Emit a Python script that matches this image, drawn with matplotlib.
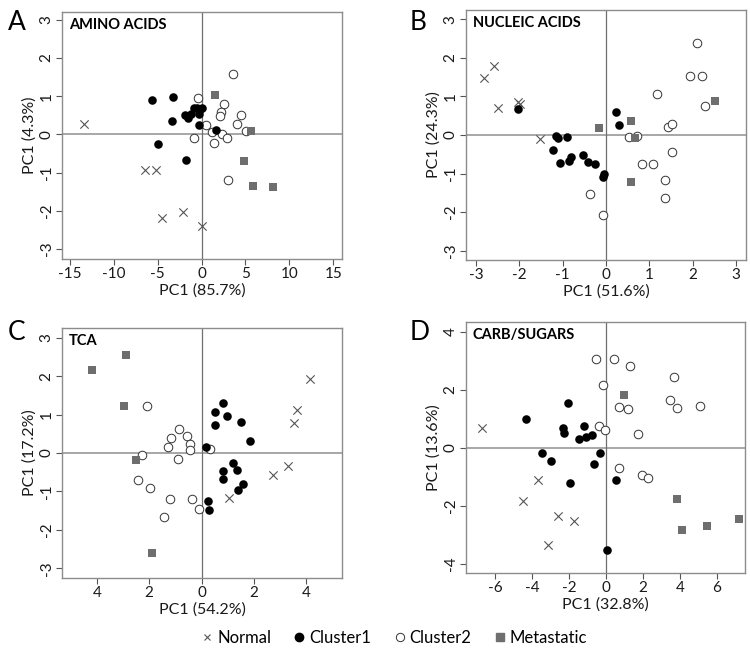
import matplotlib
matplotlib.use('Agg')
import matplotlib.pyplot as plt
from matplotlib.lines import Line2D

plt.rcParams['font.family'] = ['Lato', 'DejaVu Sans']
plt.rcParams['axes.unicode_minus'] = False

# panel A - amino acids
a_normal = [(-13.4, 0.27), (-6.5, -0.93), (-5.2, -0.93), (-4.5, -2.2), (-2.1, -2.03), (0.1, -2.4)]
a_cluster1 = [(-5.6, 0.89), (-3.3, 0.99), (-3.4, 0.34), (-5.0, -0.25), (-1.8, -0.68),
              (-1.9, 0.50), (-1.6, 0.42), (-1.25, 0.53), (-0.87, 0.68), (-0.57, 0.70),
              (-0.19, 0.66), (0.08, 0.68), (-0.3, 0.53), (-0.3, 0.24), (1.6, 0.12)]
a_cluster2 = [(3.6, 1.59), (-0.4, 0.96), (2.6, 0.79), (2.2, 0.59), (2.05, 0.48), (4.5, 0.50),
              (4.0, 0.28), (0.53, 0.24), (5.1, 0.10), (1.2, 0.05), (2.35, 0.0), (2.85, -0.09),
              (-0.84, -0.10), (1.45, -0.23), (2.97, -1.19)]
a_meta = [(1.52, 1.02), (5.63, 0.09), (4.83, -0.69), (5.86, -1.36), (8.1, -1.38)]

# panel B - nucleic acids
b_normal = [(-2.81, 1.48), (-2.58, 1.79), (-2.49, 0.69), (-2.02, 0.85), (-1.98, 0.80), (-1.52, -0.10)]
b_cluster1 = [(-2.02, 0.68), (-1.15, -0.03), (-1.11, -0.09), (-0.91, -0.04), (-1.22, -0.39),
              (-1.05, -0.72), (-0.86, -0.67), (-0.80, -0.56), (-0.54, -0.52), (-0.42, -0.69),
              (-0.26, -0.76), (-0.05, -1.01), (-0.07, -1.08), (0.22, 0.60), (0.29, 0.27)]
b_cluster2 = [(2.1, 2.38), (1.93, 1.54), (2.21, 1.54), (1.18, 1.05), (2.29, 0.75), (1.42, 0.21),
              (1.52, 0.28), (0.52, -0.04), (0.72, -0.02), (1.52, -0.45), (0.83, -0.75),
              (1.08, -0.76), (1.37, -1.17), (1.35, -1.63), (-0.36, -1.54), (-0.08, -2.08)]
b_meta = [(-0.16, 0.19), (0.58, 0.36), (0.68, -0.07), (2.52, 0.88), (0.58, -1.23)]

# panel C - TCA
c_normal = [(4.15, 1.93), (3.65, 1.12), (3.51, 0.79), (3.28, -0.34), (2.74, -0.56), (1.05, -1.16)]
c_cluster1 = [(0.80, 1.29), (0.51, 1.06), (0.97, 0.95), (0.51, 0.74), (1.52, 0.81), (1.84, 0.31),
              (0.18, 0.15), (1.19, -0.27), (0.83, -0.46), (1.35, -0.45), (0.80, -0.68),
              (1.58, -0.80), (1.40, -0.95), (0.24, -1.26), (0.28, -1.49)]
c_cluster2 = [(-2.07, 1.23), (-0.85, 0.62), (-1.17, 0.39), (-0.56, 0.44), (-1.30, 0.16),
              (-0.43, 0.24), (-0.43, 0.07), (0.32, 0.10), (-2.26, -0.04), (-0.91, -0.16),
              (-2.44, -0.71), (-1.98, -0.92), (-1.2, -1.19), (-0.37, -1.19), (-0.11, -1.46),
              (-1.45, -1.66)]
c_meta = [(-4.18, 2.16), (-2.9, 2.54), (-2.97, 1.21), (-2.49, -0.17), (-1.91, -2.61)]

# panel D - carb/sugars
d_normal = [(-6.73, 0.69), (-3.70, -1.11), (-4.48, -1.84), (-2.62, -2.35), (-1.73, -2.52), (-3.12, -3.34)]
d_cluster1 = [(-4.33, 0.98), (-2.08, 1.53), (-2.35, 0.69), (-2.26, 0.52), (-1.19, 0.75),
              (-1.46, 0.30), (-1.08, 0.38), (-0.78, 0.44), (-3.47, -0.18), (-2.98, -0.45),
              (-0.32, -0.20), (-0.65, -0.56), (-1.97, -1.22), (0.52, -1.12), (0.05, -3.53)]
d_cluster2 = [(-0.56, 3.06), (0.42, 3.06), (1.30, 2.81), (-0.14, 2.15), (3.66, 2.42), (3.47, 1.65),
              (3.83, 1.36), (5.09, 1.45), (0.70, 1.41), (1.17, 1.32), (-0.36, 0.75), (-0.04, 0.61),
              (1.73, 0.48), (0.70, -0.71), (1.93, -0.94), (2.27, -1.03)]
d_meta = [(0.99, 1.82), (3.86, -1.76), (4.12, -2.83), (5.47, -2.70), (7.22, -2.45)]

panel_titles = ['AMINO ACIDS', 'NUCLEIC ACIDS', 'TCA', 'CARB/SUGARS']
panel_letters = ['A', 'B', 'C', 'D']
x_labels = ['PC1 (85.7%)', 'PC1 (51.6%)', 'PC1 (54.2%)', 'PC1 (32.8%)']
y_labels = ['PC1 (4.3%)', 'PC1 (24.3%)', 'PC1 (17.2%)', 'PC1 (13.6%)']
x_ticks = [[-15, -10, -5, 0, 5, 10, 15], [-3, -2, -1, 0, 1, 2, 3], [-4, -2, 0, 2, 4], [-6, -4, -2, 0, 2, 4, 6]]
x_ticklabels = [None, None, ['4', '2', '0', '2', '4'], None]
y_ticks = [[-3, -2, -1, 0, 1, 2, 3]] * 3 + [[-4, -2, 0, 2, 4]]
x_lims = [(-15.9, 16.0), (-3.23, 3.23), (-5.33, 5.36), (-7.58, 7.53)]
y_lims = [(-3.26, 3.2), (-3.24, 3.24), (-3.25, 3.25), (-4.32, 4.33)]

groups = [
    (a_normal, a_cluster1, a_cluster2, a_meta),
    (b_normal, b_cluster1, b_cluster2, b_meta),
    (c_normal, c_cluster1, c_cluster2, c_meta),
    (d_normal, d_cluster1, d_cluster2, d_meta),
]

# axes boxes in pixels: left, top, right, bottom
boxes = [(62, 12, 342, 259), (466, 10, 746, 260), (62, 328, 342, 578), (466, 322, 745, 573)]
letter_pos = [(8, 22), (410, 22), (8, 333), (410, 333)]

W, H = 750, 653
fig = plt.figure(figsize=(W / 100, H / 100), dpi=100)

spine_col = '#8c8c8c'
for i in range(4):
    l, t, r, b = boxes[i]
    ax = fig.add_axes([l / W, 1 - b / H, (r - l) / W, (b - t) / H])
    normal, cl1, cl2, meta = groups[i]

    ax.axhline(0, color='#8f8f8f', lw=1.1, zorder=1)
    ax.axvline(0, color='#6f6f6f', lw=0.9, zorder=1)

    ax.scatter([p[0] for p in normal], [p[1] for p in normal], marker='x', s=36,
               color='#555555', linewidths=0.8, zorder=3)
    ax.scatter([p[0] for p in cl2], [p[1] for p in cl2], marker='o', s=38,
               facecolors='white', edgecolors='#333333', linewidths=0.7, zorder=3)
    ax.scatter([p[0] for p in cl1], [p[1] for p in cl1], marker='o', s=38,
               color='black', linewidths=0, zorder=4)
    ax.scatter([p[0] for p in meta], [p[1] for p in meta], marker='s', s=32,
               color='#6e6e6e', linewidths=0, zorder=4)

    ax.set_xlim(*x_lims[i])
    ax.set_ylim(*y_lims[i])
    ax.set_xticks(x_ticks[i])
    if x_ticklabels[i] is not None:
        ax.set_xticklabels(x_ticklabels[i])
    ax.set_yticks(y_ticks[i])
    for lbl in ax.get_yticklabels():
        lbl.set_rotation(90)
        lbl.set_va('center')
    ax.tick_params(direction='out', length=4.5, width=0.8, color='#555555',
                   labelsize=11, pad=1.5, labelcolor='#1a1a1a')
    for s in ax.spines.values():
        s.set_color(spine_col)
        s.set_linewidth(1.0)

    ax.set_xlabel(x_labels[i], fontsize=11.5, color='#1a1a1a', labelpad=1.5)
    ax.set_ylabel(y_labels[i], fontsize=11.5, color='#1a1a1a', labelpad=2)
    ax.text(0.025, 0.975, panel_titles[i], transform=ax.transAxes, ha='left', va='top',
            fontsize=10.5, fontweight='bold', color='black')

    fig.text(letter_pos[i][0] / W, 1 - letter_pos[i][1] / H, panel_letters[i],
             fontsize=19, ha='left', va='center')

handles = [
    Line2D([], [], ls='none', marker='x', color='#555555', markersize=5, markeredgewidth=0.8),
    Line2D([], [], ls='none', marker='o', color='black', markersize=6),
    Line2D([], [], ls='none', marker='o', markerfacecolor='white', markeredgecolor='#333333',
           markersize=6, markeredgewidth=0.7),
    Line2D([], [], ls='none', marker='s', color='#6e6e6e', markersize=6),
]
fig.legend(handles, ['Normal', 'Cluster1', 'Cluster2', 'Metastatic'], loc='center',
           bbox_to_anchor=(393 / W, 1 - 638 / H), ncol=4, frameon=False, fontsize=12,
           handletextpad=0.1, columnspacing=1.2, handlelength=1.0)

fig.savefig('out.png', dpi=100)
